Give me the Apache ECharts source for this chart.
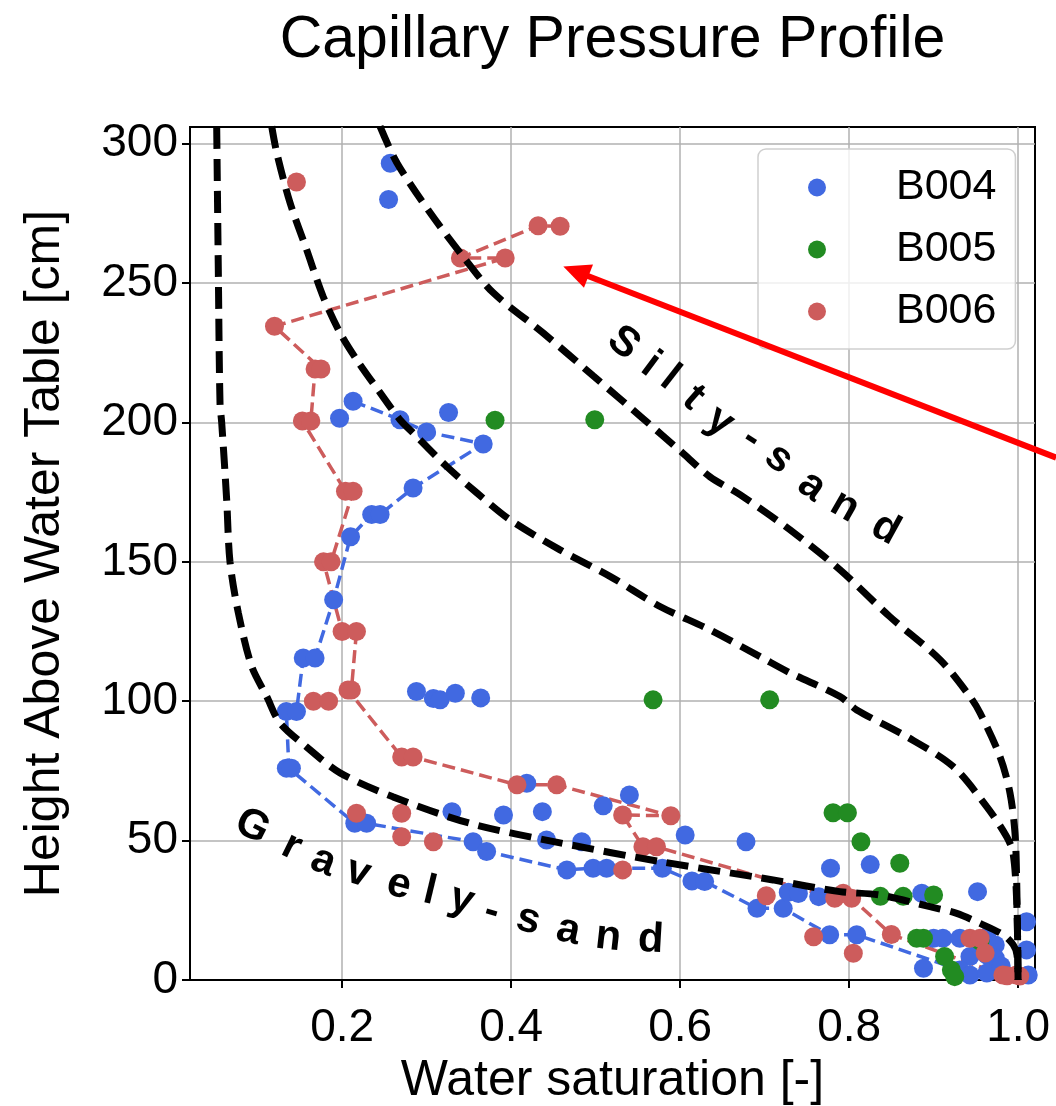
<!DOCTYPE html>
<html><head><meta charset="utf-8">
<script src="https://cdn.jsdelivr.net/npm/echarts@6/dist/echarts.min.js"></script>
<style>html,body{margin:0;padding:0;background:#fff}#chart{width:1056px;height:1106px}</style>
</head><body><div id="chart"></div>
<script>
const FONT = '"Liberation Sans", Arial, Helvetica, sans-serif';
const titleText = 'Capillary Pressure Profile';
const xAxisName = 'Water saturation [-]';
const yAxisName = 'Height Above Water Table [cm]';
const xTickValues = [0.2, 0.4, 0.6, 0.8, 1.0];
const yTickValues = [0, 50, 100, 150, 200, 250, 300];
const legendNames = ['B004', 'B005', 'B006'];

// [water saturation, height above water table]
const b004Points = [
  [0.257,293],[0.255,280],
  [0.213,207.6],[0.197,201.5],[0.2685,201],[0.300,196.6],[0.326,203.6],[0.367,192.3],
  [0.284,176.5],[0.235,167],[0.245,167],[0.210,159],[0.190,136.4],[0.154,115.5],[0.168,115.5],
  [0.288,103.5],[0.308,101],[0.316,100.5],[0.334,102.9],[0.364,101.2],
  [0.134,96.3],[0.146,96.3],[0.134,76],[0.140,76],
  [0.330,60.4],[0.391,59.2],[0.4185,70.6],[0.437,60.4],[0.509,62.5],[0.540,66.4],[0.606,52],[0.678,49.6],
  [0.215,56.2],[0.229,56.2],[0.355,49.6],[0.371,46.1],[0.442,50.2],[0.4835,49.6],
  [0.466,39.5],[0.497,40.1],[0.513,40.1],[0.579,40.1],[0.614,35.5],[0.629,35.3],
  [0.691,25.7],[0.722,25.7],[0.728,31.5],[0.740,31],[0.764,29.9],[0.778,40.1],[0.825,41.4],
  [0.777,16.2],[0.809,16.2],[0.886,31.1],[0.952,31.7],
  [0.888,4.2],[0.900,15],[0.911,15],[0.931,15],[0.963,15.5],[0.973,12.6],[0.943,8.4],[0.963,9.0],
  [0.973,7.8],[0.931,3.6],[0.943,1.8],[0.963,2.5],[0.955,12],[0.980,5],
  [1.010,20.9],[1.010,10.8],[1.012,1.8]
];
const b004Profile = [
  [0.213,207.6],[0.2685,201],[0.300,196.6],[0.367,192.3],[0.284,176.5],[0.245,167],[0.235,167],
  [0.210,159],[0.190,136.4],[0.168,115.5],[0.154,115.5],[0.146,96.3],[0.134,96.3],[0.137,76],
  [0.215,56.2],[0.229,56.2],[0.355,49.6],[0.371,46.1],[0.466,39.5],[0.497,40.1],[0.513,40.1],
  [0.579,40.1],[0.614,35.5],[0.629,35.3],[0.691,25.7],[0.722,25.7],[0.777,16.2],[0.809,16.2],
  [0.931,3.6],[0.943,1.8]
];
const b005Points = [
  [0.381,200.8],[0.499,201],[0.568,100.5],[0.706,100.5],[0.781,60],[0.798,60],[0.814,49.6],
  [0.860,41.9],[0.837,30],[0.864,30],[0.900,30.5],[0.880,15],[0.888,15],[0.913,8.4],
  [0.921,3.6],[0.925,1.2],[0.955,14]
];
const b005Profile = [[0.888,15],[0.913,8.4],[0.921,3.6],[0.925,1.2]];
const b006Points = [
  [0.146,286.3],[0.458,270.4],[0.432,270.6],[0.340,259],[0.393,259],[0.120,234.5],[0.168,219.2],
  [0.175,219.2],[0.153,200.5],[0.163,200.5],[0.204,175.3],[0.213,175.3],[0.178,150],[0.187,150],
  [0.200,125],[0.217,125],[0.207,104],[0.211,104],[0.166,100],[0.184,100],[0.2705,80],[0.284,80],
  [0.407,70],[0.454,70],[0.217,59.8],[0.2705,59.8],[0.2705,51.4],[0.308,49.6],[0.532,59.2],
  [0.589,58.9],[0.556,47.8],[0.572,47.8],[0.532,39.5],[0.702,30.2],[0.783,29.3],[0.793,31.1],
  [0.803,29.3],[0.758,15.5],[0.805,9.6],[0.850,16.3],[0.943,15],[0.955,15],[0.961,9.7],
  [0.982,1.8],[0.998,1.8],[0.987,1.5],[1.002,1.4]
];
const b006Profile = [
  [0.458,270.4],[0.432,270.6],[0.340,259],[0.393,259],[0.120,234.5],[0.175,219.2],[0.168,219.2],
  [0.163,200.5],[0.153,200.5],[0.204,175.3],[0.213,175.3],[0.187,150],[0.178,150],[0.200,125],
  [0.217,125],[0.211,104],[0.207,104],[0.2705,80],[0.284,80],[0.407,70],[0.454,70],[0.589,58.9],
  [0.532,59.2],[0.556,47.8],[0.572,47.8],[0.783,29.3],[0.803,29.3],[0.850,16.3],[0.982,1.8],[0.998,1.8]
];

// model curves
const gravelySandCurve = [
  [0.0516,306],[0.0535,254.8],[0.0555,207.1],[0.0575,200],[0.0634,172.3],[0.0673,150.1],[0.0772,131.7],
  [0.093,112.5],[0.1108,101.7],[0.1265,92.2],[0.158,83.6],[0.1975,74.3],[0.2602,65.7],[0.3514,56.2],
  [0.4579,49.2],[0.5762,42.5],[0.6863,37.1],[0.710,35.9],[0.789,31.7],[0.8366,30.5],[0.8957,26.3],
  [0.9274,23.9],[0.955,20.3],[0.9825,16.2],[0.9943,12.6],[0.9987,9],[1.0,0]
];
const siltySandCurveInner = [
  [0.1167,306.2],[0.1226,296.8],[0.1383,278.9],[0.158,262],[0.1774,245.3],[0.1975,232.2],[0.2173,222.5],
  [0.2449,210.7],[0.2685,201],[0.2839,196.3],[0.3238,184.2],[0.3593,174.8],[0.3987,165.1],[0.4579,154.3],
  [0.517,144.8],[0.5762,134],[0.6354,125.6],[0.6946,116],[0.730,110.2],[0.7892,101.7],[0.809,96.9],
  [0.8682,87.3],[0.923,76.6],[0.9628,62.2],[0.9865,51.4],[0.994,45.6],[0.9983,28.7],[1.0,0]
];
const siltySandCurveOuter = [
  [0.2449,306.2],[0.2646,293.3],[0.304,275.3],[0.343,259.6],[0.3786,246.6],[0.438,232.1],[0.4969,216.8],
  [0.5561,201.4],[0.5999,189.9],[0.6354,180.5],[0.6709,174.1],[0.730,161.5],[0.789,147.2],[0.848,130.4],
  [0.9076,114.9],[0.943,101.7],[0.955,95.8],[0.9786,80.1],[0.9904,67.1],[0.9963,52.8],[0.9983,35.9],[1.0,0]
];

// annotation anchors (data coordinates)
const gravelyLabelChars = ['G','r','a','v','e','l','y','-','s','a','n','d'];
const gravelyLabelAnchors = [
  [0.0937,55.0],[0.1404,47.8],[0.1778,42.5],[0.2192,38.5],[0.2673,34.1],[0.3040,31.7],
  [0.3415,28.7],[0.3770,24.5],[0.4204,21.5],[0.4677,17.7],[0.5150,15.3],[0.5652,14.4]
];
const siltyLabelChars = ['S','i','l','t','y','-','s','a','n','d'];
const siltyLabelAnchors = [
  [0.5328,228.5],[0.5652,220.7],[0.5881,216.0],[0.6156,208.8],[0.6472,200.4],
  [0.6847,194.2],[0.7170,187.0],[0.7557,177.1],[0.7951,169.9],[0.8433,161.8]
];
const arrowTip = [0.4618, 256.0];
const arrowTail = [1.045, 187.4];

const BLUE = '#4169E1', GREEN = '#228B22', RED = '#CD5C5C';

const chart = echarts.init(document.getElementById('chart'), null, {renderer: 'canvas'});

function scatterSeries(name, data, color) {
  return {name, type: 'scatter', data, symbol: 'circle', symbolSize: 19,
    itemStyle: {color, opacity: 1}, z: 2, emphasis: {disabled: true}};
}
function profileSeries(name, data, color) {
  return {name, type: 'line', data, symbol: 'none', showSymbol: false,
    lineStyle: {color, width: 3.5, type: [13, 6]}, z: 2, silent: true, emphasis: {disabled: true}};
}
function curveSeries(name, data) {
  return {name, type: 'line', data, symbol: 'none', showSymbol: false, smooth: 0.3,
    lineStyle: {color: '#000', width: 7, type: [22, 10]}, z: 3, silent: true, emphasis: {disabled: true}};
}

const option = {
  animation: false,
  backgroundColor: '#ffffff',
  grid: {left: 190, top: 127, width: 845, height: 853, show: true, borderColor: '#000', borderWidth: 2,
    containLabel: false, outerBoundsMode: 'none'},
  legend: {
    data: legendNames, orient: 'vertical', left: 758, top: 149,
    itemWidth: 56, itemHeight: 18, itemGap: 19,
    padding: [17, 19, 16, 50],
    backgroundColor: 'rgba(255,255,255,0.8)', borderColor: '#cfcfcf', borderWidth: 1.5, borderRadius: 8,
    textStyle: {fontFamily: FONT, fontSize: 43, lineHeight: 42, color: '#000', padding: [0, 0, 0, 46]},
    selectedMode: false
  },
  xAxis: {
    type: 'value', min: 0.02, max: 1.02,
    name: xAxisName, nameLocation: 'middle', nameGap: 62,
    nameTextStyle: {fontFamily: FONT, fontSize: 50, color: '#000'},
    axisLine: {show: true, onZero: false, lineStyle: {color: '#000', width: 2}},
    axisTick: {show: true, length: 8, customValues: xTickValues, lineStyle: {color: '#000', width: 2}},
    axisLabel: {customValues: xTickValues, formatter: v => Number(v).toFixed(1),
      fontFamily: FONT, fontSize: 46, color: '#000', margin: 25},
    splitLine: {show: true, lineStyle: {color: '#b0b0b0', width: 1.5}}
  },
  yAxis: {
    type: 'value', min: 0, max: 306,
    name: yAxisName, nameLocation: 'middle', nameGap: 120,
    nameTextStyle: {fontFamily: FONT, fontSize: 50, color: '#000'},
    axisLine: {show: true, onZero: false, lineStyle: {color: '#000', width: 2}},
    axisTick: {show: true, length: 8, customValues: yTickValues, lineStyle: {color: '#000', width: 2}},
    axisLabel: {customValues: yTickValues, formatter: v => String(Math.round(v)),
      fontFamily: FONT, fontSize: 46, color: '#000', margin: 12},
    splitLine: {show: true, lineStyle: {color: '#b0b0b0', width: 1.5}}
  },
  series: [
    scatterSeries('B004', b004Points, BLUE),
    profileSeries('B004 profile', b004Profile, BLUE),
    scatterSeries('B005', b005Points, GREEN),
    profileSeries('B005 profile', b005Profile, GREEN),
    scatterSeries('B006', b006Points, RED),
    profileSeries('B006 profile', b006Profile, RED),
    curveSeries('Gravely-sand', gravelySandCurve),
    curveSeries('Silty-sand inner', siltySandCurveInner),
    curveSeries('Silty-sand outer', siltySandCurveOuter)
  ]
};
chart.setOption(option);

function toPx(p) { return chart.convertToPixel({gridIndex: 0}, p); }
function charGraphics(chars, anchors, fontSize) {
  const pts = anchors.map(toPx);
  return chars.map((c, i) => {
    const a = pts[Math.max(0, i - 1)], b = pts[Math.min(pts.length - 1, i + 1)];
    const ang = Math.atan2(b[1] - a[1], b[0] - a[0]);
    return {type: 'text', x: pts[i][0], y: pts[i][1], rotation: -ang, z: 50, silent: true,
      style: {text: c, fontFamily: FONT, fontSize, fontWeight: 'bold', fill: '#000', align: 'center', verticalAlign: 'middle'}};
  });
}
const tip = toPx(arrowTip), tail = toPx(arrowTail);
const dx = tip[0] - tail[0], dy = tip[1] - tail[1], L = Math.hypot(dx, dy);
const ux = dx / L, uy = dy / L, nx = -uy, ny = ux;
const headLen = 27, headHalf = 12.5;
const base = [tip[0] - ux * headLen, tip[1] - uy * headLen];
const left = toPx([0.02, 0])[0], right = toPx([1.02, 0])[0];

chart.setOption({
  graphic: [
    {type: 'text', x: (left + right) / 2, y: 41, z: 50, silent: true,
      style: {text: titleText, fontFamily: FONT, fontSize: 59, fill: '#000', align: 'center', verticalAlign: 'middle'}},
    ...charGraphics(gravelyLabelChars, gravelyLabelAnchors, 42),
    ...charGraphics(siltyLabelChars, siltyLabelAnchors, 42),
    {type: 'line', z: 60, silent: true,
      shape: {x1: tail[0], y1: tail[1], x2: base[0] + ux * 2, y2: base[1] + uy * 2},
      style: {stroke: '#ff0000', lineWidth: 6}},
    {type: 'polygon', z: 60, silent: true,
      shape: {points: [tip, [base[0] + nx * headHalf, base[1] + ny * headHalf], [base[0] - nx * headHalf, base[1] - ny * headHalf]]},
      style: {fill: '#ff0000'}}
  ]
});
</script></body></html>
